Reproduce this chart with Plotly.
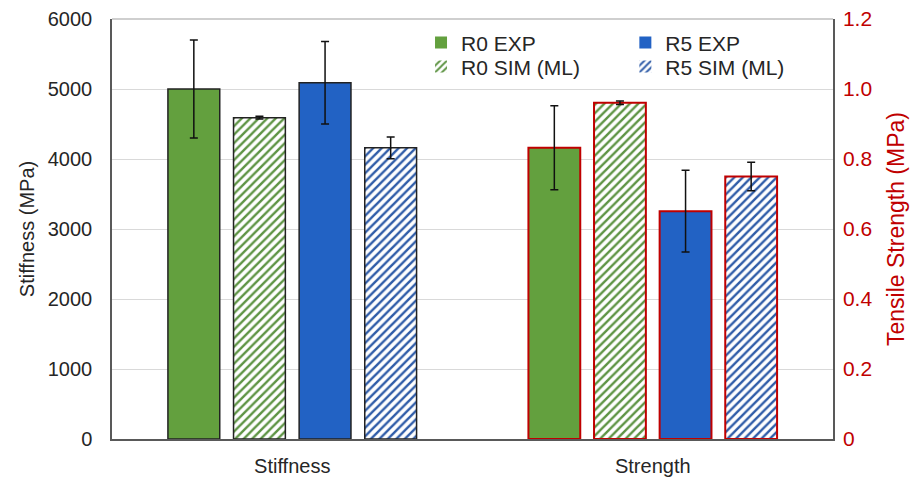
import plotly.graph_objects as go

# ---- data -------------------------------------------------------------
categories = ["Stiffness", "Strength"]
series = ["R0 EXP", "R0 SIM (ML)", "R5 EXP", "R5 SIM (ML)"]

stiffness_mpa = [5000, 4590, 5090, 4160]
stiffness_err = [700, 20, 590, 155]

strength_mpa = [0.832, 0.961, 0.651, 0.750]
strength_err = [0.120, 0.005, 0.117, 0.041]

# ---- styles -----------------------------------------------------------
GREEN = "#63A03E"
BLUE = "#2262C4"
RED = "#C00000"
colors = [GREEN, GREEN, BLUE, BLUE]
hatch_colors = [GREEN, "#5E9444", BLUE, "#2F5CA8"]
hatched = [False, True, False, True]
FONT = "Liberation Sans, Arial, sans-serif"
TXT = "#262626"

# one legend box per entry: 2 x 2 grid (R0 left column, R5 right column)
legend_ids = ["legend", "legend3", "legend2", "legend4"]
legend_x = [0.4286, 0.4286, 0.712, 0.712]
legend_y = [0.943, 0.886, 0.943, 0.886]


def marker_style(color, hatch, outline, lw):
    m = dict(line=dict(color=outline, width=lw))
    if hatch:
        m["color"] = "white"
        m["pattern"] = dict(shape="/", fgcolor=color, bgcolor="white",
                            size=6, solidity=0.4, fillmode="replace")
    else:
        m["color"] = color
    return m


fig = go.Figure()

# stiffness bars (left axis)
for name, v, e, c, h in zip(series, stiffness_mpa, stiffness_err, hatch_colors, hatched):
    fig.add_trace(go.Bar(
        x=[categories[0]], y=[v], name=name, showlegend=False, offsetgroup=name,
        marker=marker_style(c, h, "#222222", 1.5),
        error_y=dict(type="data", array=[e], color="#111111", thickness=1.5, width=4),
        xaxis="x", yaxis="y",
    ))

# strength bars (right axis)
for name, v, e, c, h in zip(series, strength_mpa, strength_err, hatch_colors, hatched):
    fig.add_trace(go.Bar(
        x=[categories[1]], y=[v], name=name, showlegend=False, offsetgroup=name,
        marker=marker_style(c, h, RED, 2),
        error_y=dict(type="data", array=[e], color="#111111", thickness=1.5, width=4),
        xaxis="x", yaxis="y2",
    ))

# legend swatches (no outline)
for name, c, h, lg in zip(series, hatch_colors, hatched, legend_ids):
    fig.add_trace(go.Bar(
        x=[None], y=[None], name=name, showlegend=True, offsetgroup=name,
        marker=marker_style(c, h, "rgba(0,0,0,0)", 0),
        legend=lg, xaxis="x", yaxis="y",
    ))

legend_layout = {}
for lg, lx, ly in zip(legend_ids, legend_x, legend_y):
    legend_layout[lg] = dict(
        x=lx, y=ly, orientation="v", yanchor="middle", xanchor="left",
        font=dict(family=FONT, size=21, color=TXT),
        bgcolor="rgba(0,0,0,0)", itemwidth=30, tracegroupgap=0,
    )

fig.update_layout(
    width=911, height=479,
    margin=dict(l=112, r=78, t=19, b=40, autoexpand=False),
    paper_bgcolor="white", plot_bgcolor="white",
    barmode="group", bargap=0.272, bargroupgap=0.21,
    font=dict(family=FONT, size=20, color=TXT),
    xaxis=dict(
        categoryorder="array", categoryarray=categories, automargin=False,
        showline=True, linecolor="#595959", linewidth=1.5,
        mirror=False, ticks="", ticklabelstandoff=8,
        tickfont=dict(size=20, color=TXT), showgrid=False,
    ),
    yaxis=dict(
        range=[0, 6000], dtick=1000, showgrid=True, gridcolor="#D9D9D9",
        gridwidth=1, showline=True, linecolor="#595959", linewidth=1.5,
        zeroline=False, ticks="", ticklabelstandoff=14, automargin=False,
        tickfont=dict(size=20, color=TXT),
        title=dict(text="Stiffness (MPa)", font=dict(size=20, color=TXT),
                   standoff=8),
    ),
    yaxis2=dict(
        range=[0, 1.2], overlaying="y", side="right", automargin=False,
        showgrid=False, showline=True, linecolor="#595959", linewidth=1.5,
        zeroline=False, ticks="", ticklabelstandoff=4,
        tickvals=[0, 0.2, 0.4, 0.6, 0.8, 1.0, 1.2],
        ticktext=["0", "0.2", "0.4", "0.6", "0.8", "1.0", "1.2"],
        tickfont=dict(size=21, color=RED),
        title=dict(text="Tensile Strength (MPa)", font=dict(size=23, color=RED),
                   standoff=16),
    ),
    shapes=[dict(type="line", xref="paper", yref="paper", x0=0, x1=1, y0=1, y1=1,
                 line=dict(color="#BFBFBF", width=1.5))],
    **legend_layout,
)

fig.write_html("out.html")
